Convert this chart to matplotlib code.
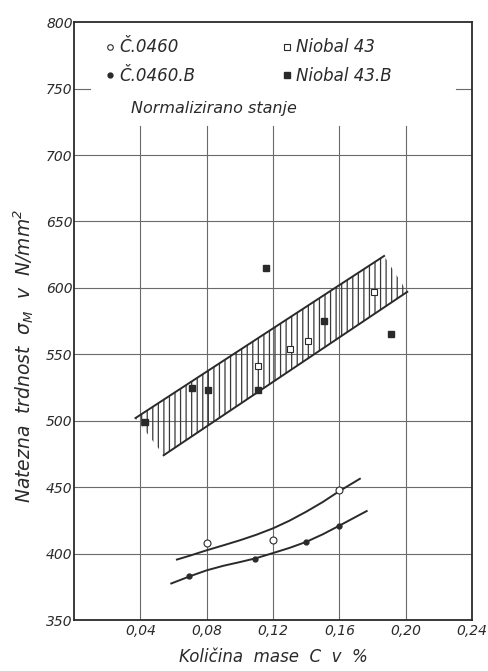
import matplotlib
matplotlib.use("Agg")
import matplotlib.pyplot as plt
from matplotlib.lines import Line2D

plt.rcParams['font.family'] = ['DejaVu Sans']
plt.rcParams['font.style'] = 'italic'
plt.rcParams['mathtext.default'] = 'it'

# ---- data ----
c0460_x = [0.080, 0.120, 0.160]
c0460_y = [408, 410, 448]

c0460b_x = [0.0695, 0.109, 0.1396, 0.160]
c0460b_y = [383, 396, 409, 421]

niobal43_x = [0.111, 0.130, 0.141, 0.181]
niobal43_y = [541, 554, 560, 597]

niobal43b_x = [0.043, 0.071, 0.081, 0.111, 0.116, 0.151, 0.191]
niobal43b_y = [499, 525, 523, 523, 615, 575, 565]

# curve through Č.0460 points
curve1_x = [0.062, 0.070, 0.080, 0.090, 0.100, 0.110, 0.120, 0.130, 0.140, 0.150, 0.160, 0.1724]
curve1_y = [395.5, 398.5, 402.5, 406.2, 410.0, 414.2, 419.0, 424.8, 431.5, 438.8, 447.0, 456.3]
# curve through Č.0460.B points
curve2_x = [0.0586, 0.070, 0.080, 0.090, 0.100, 0.110, 0.120, 0.130, 0.140, 0.150, 0.160, 0.1765]
curve2_y = [377.5, 383.0, 387.4, 390.8, 393.6, 396.6, 400.4, 404.3, 408.8, 414.5, 421.0, 432.0]

# scatter band (Niobal 43)
band_upper_x = [0.037, 0.187]
band_upper_y = [502, 624]
band_lower_x = [0.054, 0.201]
band_lower_y = [474, 597]

xticks = [0.04, 0.08, 0.12, 0.16, 0.20, 0.24]
xtick_labels = ['0,04', '0,08', '0,12', '0,16', '0,20', '0,24']
yticks = [350, 400, 450, 500, 550, 600, 650, 700, 750, 800]

ink = '#2a2a2a'
grid_c = '#6a6a6a'

fig = plt.figure(figsize=(4.88, 6.71), dpi=100)
ax = fig.add_axes([0.152, 0.076, 0.815, 0.891])
ax.set_xlim(0, 0.24)
ax.set_ylim(350, 800)

# grid
for xv in xticks[:-1]:
    ax.plot([xv, xv], [350, 722], color=grid_c, lw=0.8, zorder=1)
for yv in yticks:
    if 400 <= yv <= 700:
        ax.axhline(yv, color=grid_c, lw=0.8, zorder=1)
ax.axhline(750, xmin=0, xmax=0.04, color=grid_c, lw=0.8)
ax.axhline(750, xmin=0.96, xmax=1, color=grid_c, lw=0.8)

# band
poly_x = band_upper_x + band_lower_x[::-1]
poly_y = band_upper_y + band_lower_y[::-1]
plt.rcParams['hatch.color'] = '#3a3a3a'
plt.rcParams['hatch.linewidth'] = 0.9
ax.fill(poly_x, poly_y, facecolor='none', edgecolor='#3a3a3a', hatch='|||', lw=0, zorder=2)
ax.plot(band_upper_x, band_upper_y, color=ink, lw=1.4, zorder=3)
ax.plot(band_lower_x, band_lower_y, color=ink, lw=1.4, zorder=3)

# curves
ax.plot(curve1_x, curve1_y, color=ink, lw=1.4, zorder=3)
ax.plot(curve2_x, curve2_y, color=ink, lw=1.4, zorder=3)

# points
ax.plot(c0460_x, c0460_y, 'o', ms=5, mfc='white', mec=ink, mew=0.8, ls='none', zorder=4)
ax.plot(c0460b_x, c0460b_y, 'o', ms=3.5, mfc=ink, mec=ink, ls='none', zorder=4)
ax.plot(niobal43_x, niobal43_y, 's', ms=5, mfc='white', mec=ink, mew=0.8, ls='none', zorder=4)
ax.plot(niobal43b_x, niobal43b_y, 's', ms=5, mfc=ink, mec=ink, ls='none', zorder=4)

handles = [
    Line2D([], [], marker='o', ls='none', ms=4, mfc='white', mec=ink, mew=0.8),
    Line2D([], [], marker='o', ls='none', ms=3.5, mfc=ink, mec=ink),
    Line2D([], [], marker='s', ls='none', ms=4, mfc='white', mec=ink, mew=0.8),
    Line2D([], [], marker='s', ls='none', ms=4.5, mfc=ink, mec=ink),
]
labels = ['Č.0460', 'Č.0460.B', 'Niobal 43', 'Niobal 43.B']
leg = ax.legend(handles, labels, ncol=2, frameon=False, loc='upper left',
                bbox_to_anchor=(0.045, 0.998), handlelength=0.4, handletextpad=0.35,
                columnspacing=5.3, labelspacing=0.62, fontsize=12)
for t in leg.get_texts():
    t.set_color(ink)
    t.set_style('italic')

ax.text(0.034, 735, 'Normalizirano stanje', fontsize=11.5, style='italic', color=ink,
        va='center', ha='left')

ax.set_xticks(xticks)
ax.set_xticklabels(xtick_labels)
ax.set_yticks(yticks)
ax.tick_params(length=0, labelsize=10, colors=ink, pad=3)
ax.tick_params(axis='y', pad=1)
for lab in ax.get_xticklabels() + ax.get_yticklabels():
    lab.set_style('italic')

for s in ax.spines.values():
    s.set_color(ink)
    s.set_linewidth(1.3)

ax.set_xlabel('Količina  mase  C  v  %', fontsize=12, style='italic', color=ink, labelpad=7)
ax.set_ylabel(r'Natezna  trdnost  $\sigma_M$  v  N/mm$^2$', fontsize=13.5, style='italic',
              color=ink)
ax.yaxis.set_label_coords(-0.097, 0.441)

fig.savefig('out.png', dpi=100, facecolor='white')
